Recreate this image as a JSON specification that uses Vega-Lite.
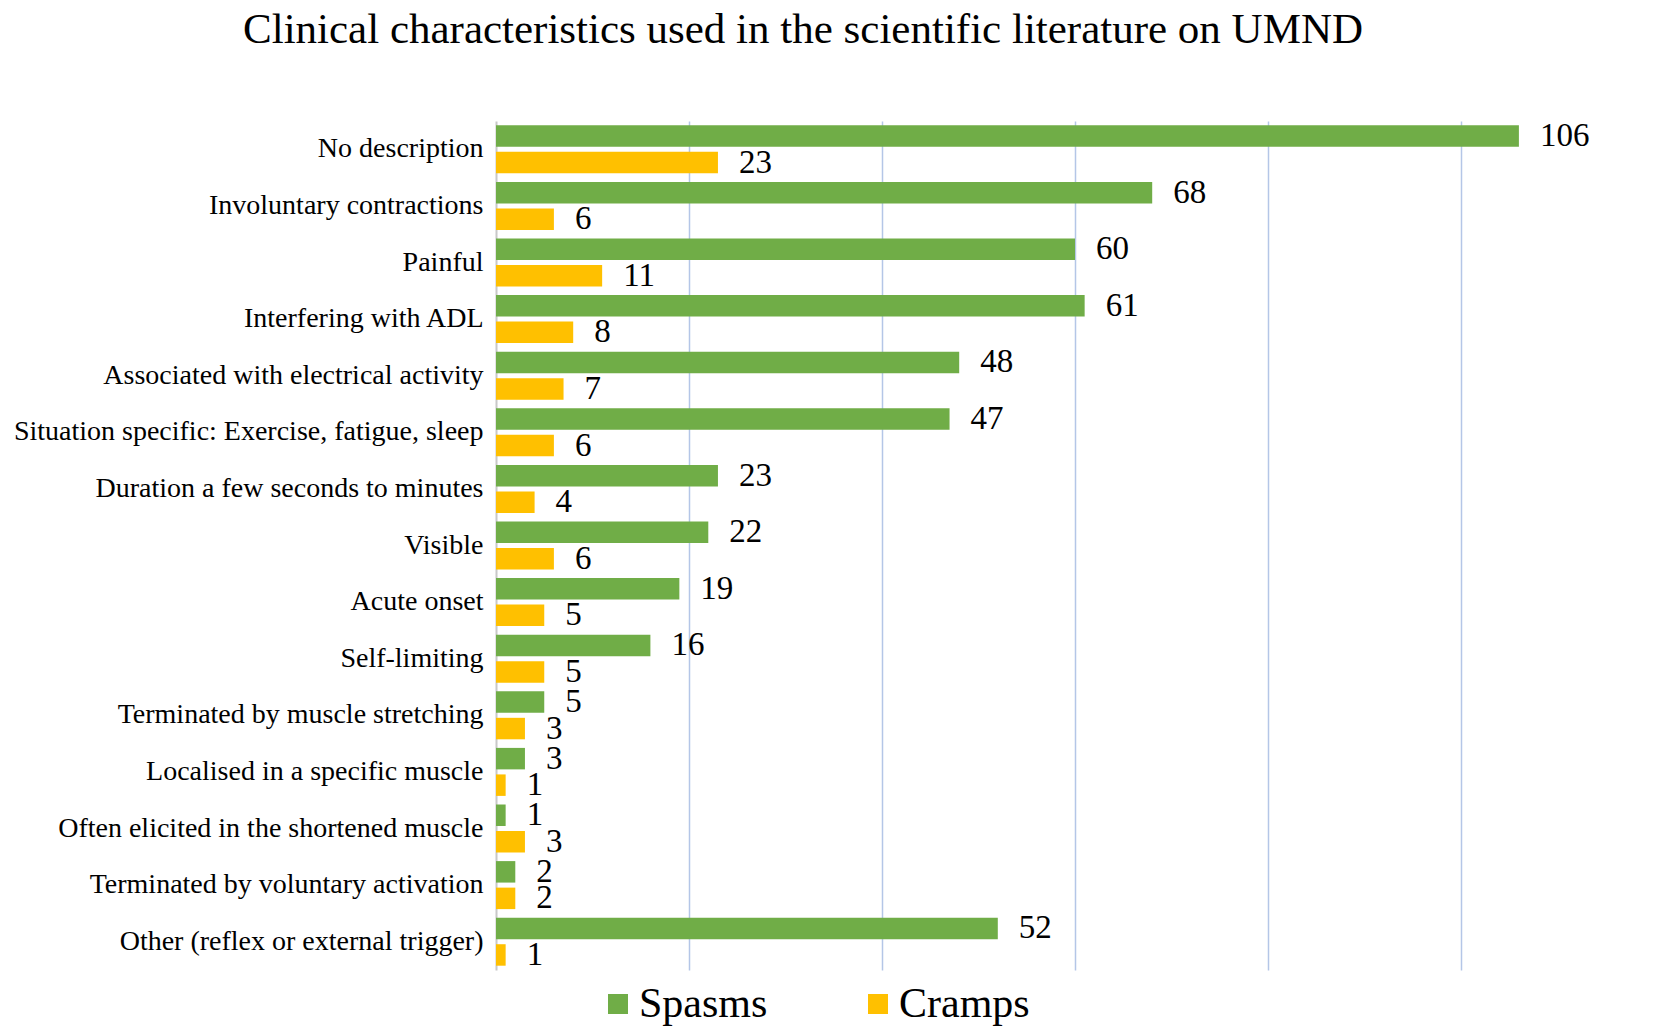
{
  "$schema": "https://vega.github.io/schema/vega-lite/v6.json",
  "width": 1158,
  "height": 849,
  "autosize": {"type": "none"},
  "padding": {"left": 496, "top": 121, "right": 0, "bottom": 66},
  "background": "white",
  "config": {
    "view": {"stroke": null},
    "font": "Liberation Serif"
  },
  "title": {
    "text": "Clinical characteristics used in the scientific literature on UMND",
    "font": "Liberation Serif",
    "fontSize": 43,
    "fontWeight": "normal",
    "color": "black",
    "anchor": "start",
    "frame": "group",
    "baseline": "alphabetic",
    "dx": -253,
    "offset": 34
  },
  "data": {
    "values": [
      {"characteristic": "No description", "type": "Spasms", "count": 106},
      {"characteristic": "No description", "type": "Cramps", "count": 23},
      {"characteristic": "Involuntary contractions", "type": "Spasms", "count": 68},
      {"characteristic": "Involuntary contractions", "type": "Cramps", "count": 6},
      {"characteristic": "Painful", "type": "Spasms", "count": 60},
      {"characteristic": "Painful", "type": "Cramps", "count": 11},
      {"characteristic": "Interfering with ADL", "type": "Spasms", "count": 61},
      {"characteristic": "Interfering with ADL", "type": "Cramps", "count": 8},
      {"characteristic": "Associated with electrical activity", "type": "Spasms", "count": 48},
      {"characteristic": "Associated with electrical activity", "type": "Cramps", "count": 7},
      {"characteristic": "Situation specific: Exercise, fatigue, sleep", "type": "Spasms", "count": 47},
      {"characteristic": "Situation specific: Exercise, fatigue, sleep", "type": "Cramps", "count": 6},
      {"characteristic": "Duration a few seconds to minutes", "type": "Spasms", "count": 23},
      {"characteristic": "Duration a few seconds to minutes", "type": "Cramps", "count": 4},
      {"characteristic": "Visible", "type": "Spasms", "count": 22},
      {"characteristic": "Visible", "type": "Cramps", "count": 6},
      {"characteristic": "Acute onset", "type": "Spasms", "count": 19},
      {"characteristic": "Acute onset", "type": "Cramps", "count": 5},
      {"characteristic": "Self-limiting", "type": "Spasms", "count": 16},
      {"characteristic": "Self-limiting", "type": "Cramps", "count": 5},
      {"characteristic": "Terminated by muscle stretching", "type": "Spasms", "count": 5},
      {"characteristic": "Terminated by muscle stretching", "type": "Cramps", "count": 3},
      {"characteristic": "Localised in a specific muscle", "type": "Spasms", "count": 3},
      {"characteristic": "Localised in a specific muscle", "type": "Cramps", "count": 1},
      {"characteristic": "Often elicited in the shortened muscle", "type": "Spasms", "count": 1},
      {"characteristic": "Often elicited in the shortened muscle", "type": "Cramps", "count": 3},
      {"characteristic": "Terminated by voluntary activation", "type": "Spasms", "count": 2},
      {"characteristic": "Terminated by voluntary activation", "type": "Cramps", "count": 2},
      {"characteristic": "Other (reflex or external trigger)", "type": "Spasms", "count": 52},
      {"characteristic": "Other (reflex or external trigger)", "type": "Cramps", "count": 1}
    ]
  },
  "encoding": {
    "y": {
      "field": "characteristic",
      "type": "nominal",
      "sort": null,
      "scale": {"paddingInner": 0.152, "paddingOuter": 0.076},
      "axis": {
        "title": null,
        "ticks": false,
        "domainColor": "#c8c8c8",
        "domainWidth": 2,
        "labelFont": "Liberation Serif",
        "labelFontSize": 28,
        "labelColor": "black",
        "labelPadding": 13,
        "labelLimit": 0
      }
    },
    "yOffset": {
      "field": "type",
      "type": "nominal",
      "sort": ["Spasms", "Cramps"],
      "scale": {"paddingInner": 0.19, "paddingOuter": 0}
    },
    "x": {
      "field": "count",
      "type": "quantitative",
      "scale": {"domain": [0, 120], "nice": false},
      "axis": {
        "title": null,
        "labels": false,
        "ticks": false,
        "domain": false,
        "grid": true,
        "gridColor": "#b4c6e7",
        "gridWidth": 1.5,
        "values": [20, 40, 60, 80, 100]
      }
    }
  },
  "layer": [
    {
      "mark": {"type": "bar"},
      "encoding": {
        "color": {
          "field": "type",
          "type": "nominal",
          "scale": {"domain": ["Spasms", "Cramps"], "range": ["#70AD47", "#FFC000"]},
          "legend": {
            "title": null,
            "orient": "none",
            "legendX": 101,
            "legendY": 862,
            "direction": "horizontal",
            "symbolType": "square",
            "symbolSize": 400,
            "symbolStrokeWidth": 0,
            "labelFont": "Liberation Serif",
            "labelFontSize": 42,
            "labelColor": "black",
            "labelOffset": 0,
            "columnPadding": 89
          }
        }
      }
    },
    {
      "mark": {
        "type": "text",
        "align": "left",
        "baseline": "middle",
        "dx": 21,
        "fontSize": 33,
        "font": "Liberation Serif",
        "color": "black"
      },
      "encoding": {
        "text": {"field": "count", "type": "quantitative"}
      }
    }
  ]
}
